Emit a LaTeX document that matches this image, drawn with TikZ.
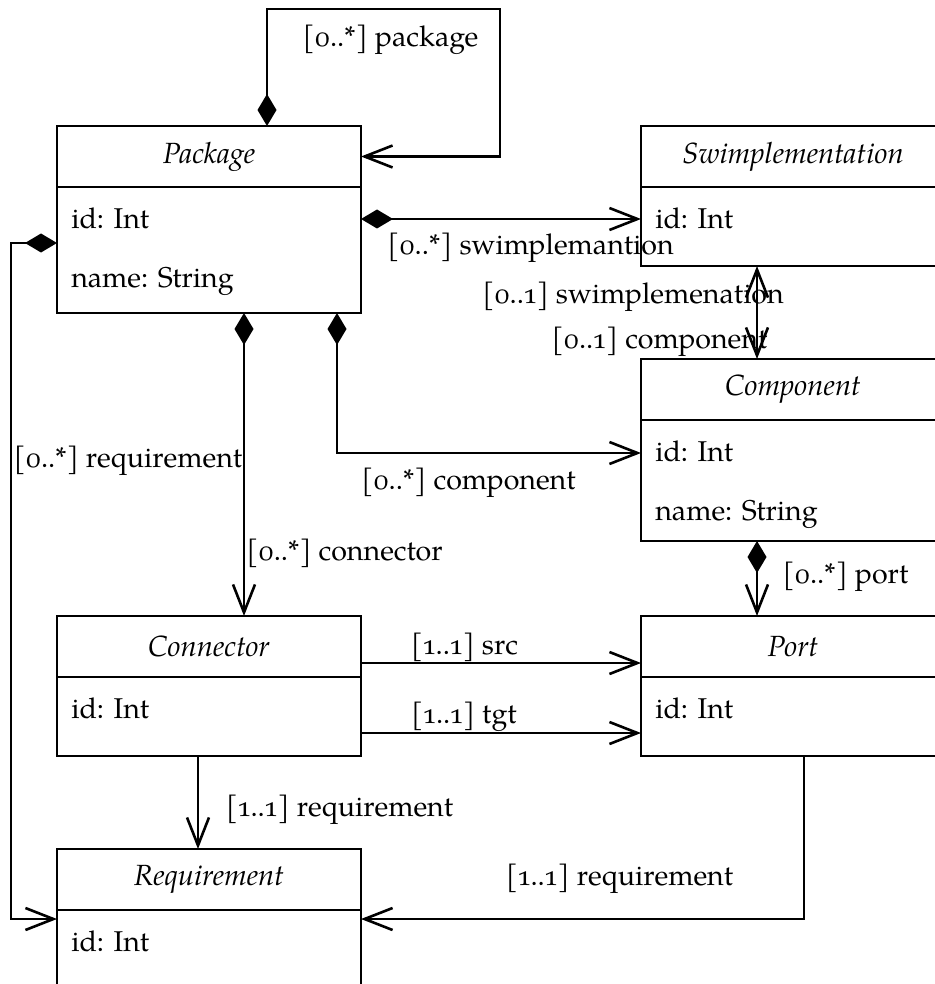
\documentclass[tikz,border=0pt]{standalone}
\usepackage{fontspec}
\setmainfont{TeX Gyre Pagella}[Numbers=OldStyle]
\usetikzlibrary{arrows.meta, positioning}

\begin{document}
\begin{tikzpicture}[
  x=0.5pt, y=-0.5pt,
  line width=1.3pt,
  font=\fontsize{14.3}{17}\selectfont,
  >={Straight Barb[length=14pt,width=11pt]},
  head/.style={rectangle, draw, minimum width=152pt, minimum height=30.5pt,
    inner sep=0pt, outer sep=0pt, font=\fontsize{14.6}{17}\selectfont\itshape},
  body/.style={rectangle, draw, minimum width=152pt, inner sep=0pt, outer sep=0pt},
  attr/.style={anchor=base west, inner sep=0pt},
  lbl/.style={inner sep=0pt},
  compo/.style={{Diamond[length=16pt,width=9.5pt]}->},
  node distance=46.5pt and 140pt
]
\useasboundingbox (0,0) rectangle (934,984);

% classes
\node[head] (pkg) at (209,156.5) {Package};
\node[body, minimum height=63pt, below=0pt of pkg] (pkg-body) {};
\node[attr] (pkg-id) at ([xshift=6.5pt,yshift=-20.75pt]pkg-body.north west) {id: Int};
\node[attr] (pkg-name) at ([xshift=6.5pt,yshift=-50.25pt]pkg-body.north west) {name: String};

\node[head, right=of pkg] (swim) {Swimplementation};
\node[body, minimum height=39.5pt, below=0pt of swim] (swim-body) {};
\node[attr] (swim-id) at ([xshift=6.5pt,yshift=-20.75pt]swim-body.north west) {id: Int};

\node[head, below=of swim-body] (comp) {Component};
\node[body, minimum height=60.5pt, below=0pt of comp] (comp-body) {};
\node[attr] (comp-id) at ([xshift=6.5pt,yshift=-20.75pt]comp-body.north west) {id: Int};
\node[attr] (comp-name) at ([xshift=6.5pt,yshift=-50.25pt]comp-body.north west) {name: String};

\node[head, below=151.5pt of pkg-body] (conn) {Connector};
\node[body, minimum height=39.5pt, below=0pt of conn] (conn-body) {};
\node[attr] (conn-id) at ([xshift=6.5pt,yshift=-20.75pt]conn-body.north west) {id: Int};

\node[head, right=of conn] (port) {Port};
\node[body, minimum height=39.5pt, below=0pt of port] (port-body) {};
\node[attr] (port-id) at ([xshift=6.5pt,yshift=-20.75pt]port-body.north west) {id: Int};

\node[head, below=of conn-body] (req) {Requirement};
\node[body, minimum height=39.5pt, below=0pt of req] (req-body) {};
\node[attr] (req-id) at ([xshift=6.5pt,yshift=-20.75pt]req-body.north west) {id: Int};

% links
\coordinate (loop) at (500,9);
\coordinate (side) at (11,919);
\draw[compo] ([xshift=29pt]pkg.north) |- (loop) |- (pkg.east);
\draw[compo] ([yshift=-16pt]pkg-body.north east) -- ([yshift=-16pt]swim-body.north west);
\draw[<->] ([xshift=-18pt]swim-body.south) -- ([xshift=-18pt]comp.north);
\draw[compo] ([xshift=17.5pt]pkg-body.south) -- ([xshift=17.5pt]conn.north);
\draw[compo] ([xshift=64pt]pkg-body.south) |- ([yshift=-16.5pt]comp-body.north west);
\draw[compo] ([yshift=-28pt]pkg-body.north west) -| (side) -- ([yshift=-4.5pt]req-body.north west);
\draw[compo] ([xshift=-18pt]comp-body.south) -- ([xshift=-18pt]port.north);
\draw[->] ([yshift=-8.25pt]conn.east) -- ([yshift=-8.25pt]port.west);
\draw[->] ([yshift=-28pt]conn-body.north east) -- ([yshift=-28pt]port-body.north west);
\draw[->] ([xshift=-5.5pt]conn-body.south) -- ([xshift=-5.5pt]req.north);
\draw[->] ([xshift=5.5pt]port-body.south) |- ([yshift=-4.5pt]req-body.north east);

% role names
\node[lbl] (l-pkg) at (390.5,40) {[0..*] package};
\node[lbl] (l-swim) at (530.5,248) {[0..*] swimplemantion};
\node[lbl] (l-swim2) at (633,297) {[0..1] swimplemenation};
\node[lbl] (l-comp2) at (659.5,342) {[0..1] component};
\node[lbl] (l-req) at (128,461) {[0..*] requirement};
\node[lbl] (l-comp) at (468.5,483) {[0..*] component};
\node[lbl] (l-conn) at (344.5,553) {[0..*] connector};
\node[lbl] (l-port) at (845.5,577) {[0..*] port};
\node[lbl] (l-src) at (464.5,647) {[1..1] src};
\node[lbl] (l-tgt) at (464,717) {[1..1] tgt};
\node[lbl] (l-req2) at (339.5,810) {[1..1] requirement};
\node[lbl] (l-req3) at (619.5,879) {[1..1] requirement};
\end{tikzpicture}
\end{document}
